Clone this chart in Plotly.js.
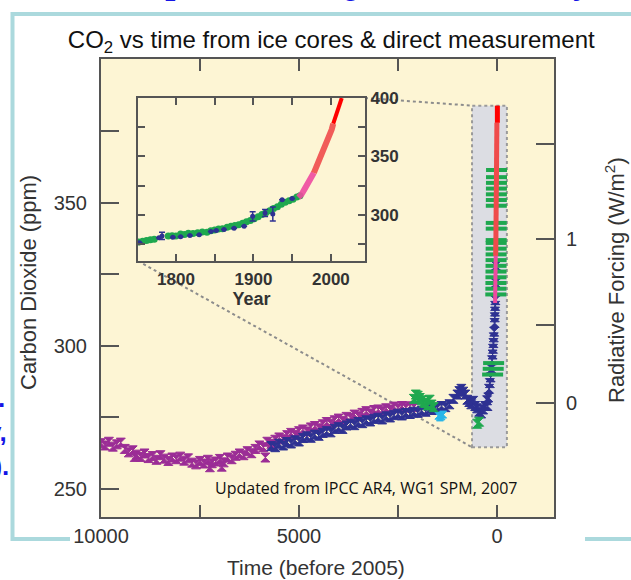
<!DOCTYPE html>
<html><head><meta charset="utf-8">
<script src="https://cdn.plot.ly/plotly-3.0.1.min.js"></script>
<style>html,body{margin:0;padding:0;background:#fff;}#chart{width:631px;height:580px;}</style>
</head><body><div id="chart"></div>
<script>
// ---------------- DATA ----------------
// Main panel: years before 2005, CO2 ppm
const purpleYr = [10000,9900,9800,9700,9600,9500,9400,9300,9200,9100,9000,8900,8800,8700,8600,8500,8400,8300,8200,8100,8000,7900,7800,7700,7600,7500,7400,7300,7200,7100,7000,6900,6800,6700,6600,6500,6400,6300,6200,6100,6000,5900,5800,5700,5600,5500,5400,5300,5200,5100,5000,4900,4800,4700,4600,4500,4400,4300,4200,4100,4000,3900,3800,3700,3600,3500,3400,3300,3200,3100,3000,2900,2800,2700,2600,2500,2400,2300,2200,2100, 5850,6950,7250,9150];
const purplePpm = [266.0,265.2,266.5,264.8,265.6,266.2,264.0,262.8,263.5,262.0,261.2,262.4,260.8,261.5,260.2,261.8,260.6,259.8,261.0,260.4,261.3,259.9,260.7,259.2,258.6,259.8,258.9,260.2,259.0,259.6,260.5,259.3,261.0,260.4,261.6,262.4,261.8,263.2,262.5,264.0,265.2,264.6,266.5,265.8,267.2,268.0,267.4,268.8,269.6,268.9,270.2,270.8,270.1,271.5,272.0,271.2,272.6,273.4,272.8,274.0,274.6,273.8,275.2,274.8,276.0,275.4,276.6,277.2,276.4,277.6,277.8,277.2,278.2,277.6,278.8,278.2,279.0,278.4,278.9,278.6, 261.0,257.8,257.6,261.2];

const blueYr = [5700,5600,5500,5400,5300,5200,5100,5000,4900,4800,4700,4600,4500,4400,4300,4200,4100,4000,3900,3800,3700,3600,3500,3400,3300,3200,3100,3000,2900,2800,2700,2600,2500,2400,2300,2200,2100,2000,1900,1800,1700,1600,1500,1400,1300,1200,1100,1000,950,900,850,800,750,700,650,600,550,500,450,400,350,300,250,240,220,200,180,160,140,125,110,100,90,80,70,60,55,50,45,40,35,30,28,25];
const bluePpm = [265.0,264.6,265.8,265.2,266.4,265.9,267.0,266.6,267.8,268.4,267.9,269.0,268.6,269.6,270.2,269.8,271.0,271.6,271.0,272.2,272.8,272.3,273.4,273.0,274.0,273.6,274.5,274.9,274.3,275.4,275.0,275.8,276.3,275.7,276.6,276.2,277.0,276.6,277.4,277.0,278.0,277.6,278.4,279.0,278.6,279.6,281.5,283.0,284.2,285.0,284.0,283.0,281.2,280.4,279.6,280.8,279.0,278.2,277.0,276.4,277.8,279.0,281.0,279.0,282.0,285.0,287.0,289.0,292.0,295.0,297.0,299.0,301.0,303.0,305.0,308.0,310.0,312.0,314.0,316.0,319.0,322.0,325.0,328.0];

const greenYr = [2100,2050,2000,1950,1900,1850,1800,1750,1700,1650,1600,500,450];
const greenPpm = [281.5,283.0,282.6,281.8,281.0,280.2,280.0,279.2,281.2,279.5,278.6,272.8,273.5];
const greenColYr = [110,95,85,30,28,27,26,25,24,23,22,21,20,20,19,18,17,16,15,14,13,12,11];
const greenColPpm = [290,292,294,318,320,322,324,326,328,330,332,334,336,337,341,343,349,351,353,355,357,359,361.5];

const cyanYr = [1480,1440,1400,1360];
const cyanPpm = [275.6,275.0,275.4,276.0];

// Direct atmospheric measurements (calendar year, ppm)
const pinkYear = [1958,1962,1966,1970,1974,1978];
const pinkPpm  = [315,317.5,322,327,331.5,336];
const redYear  = [1974,1978,1982,1986,1990,1994,1998,2001,2003];
const redPpm   = [331.5,336,342,348,354,360,367,373,378];

// Update added to the figure
const updYear = [2003,2014];
const updPpm  = [378,400];
const updMainYr  = [-10,-10];
const updMainPpm = [378,384];

// Inset: calendar year, ppm
const insetGreenYear = [1752,1757,1762,1767,1772,1790,1795,1800,1806,1811,1816,1822,1828,1834,1840,1845,1850,1855,1860,1866,1871,1876,1881,1886,1891,1896,1901,1906,1911,1916,1921,1926,1931,1936,1941,1946,1951,1956,1960];
const insetGreenPpm  = [276.8,277.4,278.0,278.6,279.2,281.8,282.2,281.9,283.6,283.2,284.2,284.0,284.6,285.3,285.0,286.4,287.0,287.8,288.2,289.4,290.2,290.8,291.6,292.8,294.0,295.2,296.6,298.4,300.2,301.8,303.6,305.4,307.0,309.0,310.8,312.0,313.4,315.2,316.4];
const insetBlueYear = [1753,1778,1782,1796,1806,1818,1830,1845,1852,1862,1875,1888,1899,1915,1925,1937,1950];
const insetBluePpm  = [276.2,280.5,282.0,280.8,281.2,282.4,283.0,285.8,286.5,287.4,288.6,290.2,298.7,301.5,300.7,313.0,314.0];
const insetBlueErr  = [0,0,3,0,0,0,0,0,0,0,0,0,4,3,6,0,0];

// Radiative forcing axis
const rfTicks = [0,0.5,1,1.5];
const rfTickText = ['0','','1',''];
const C0 = 280, RF_K = 5.35;

// Tick labels
const xTickVals = [10000,7500,5000,2500,0];
const xTickText = ['10000','','5000','','0'];
const yTickVals = [250,275,300,325,350,375];
const yTickText = ['250','','300','','350',''];
const inXVals = [1800,1850,1900,1950,2000];
const inXText = ['1800','','1900','','2000'];
const inYVals = [275,300,325,350,375,400];
const inYText = ['','300','','350','','400'];

// zoom box (years before 2005, ppm)
const boxYr = [630,-250];
const boxPpm = [264.6,384];

// ---------------- STYLE ----------------
const purple='#9b2d96', blue='#2e3192', green='#1fa84f', cyan='#29b6e8',
      pink='#ee4aa0', red='#ef4b4b', bright='#ff0000', axc='#555555';
const xR=[10000,-1440], yR=[240.2,400.3];
const L=101,R=77,T=59,B=63,W=631,H=580;
const PW=W-L-R, PH=H-T-B;
const toPX = px => (px-L)/PW;
const toPY = py => (H-B-py)/PH;
const pxOf = v => (xR[0]-v)/(xR[0]-xR[1]);
const pyOf = v => (v-yR[0])/(yR[1]-yR[0]);
const inDomX=[toPX(138),toPX(365)], inDomY=[toPY(261),toPY(98)];
const bp = arr => arr.map(y=>2005-y);
const rfTickPpm = rfTicks.map(f=>C0*Math.exp(f/RF_K));

const hg = (c,s)=>({symbol:'hourglass',size:s,color:c,line:{width:1,color:c}});

const traces = [
 {x:purpleYr,y:purplePpm,mode:'markers',marker:hg(purple,9),xaxis:'x',yaxis:'y'},
 {x:blueYr,y:bluePpm,mode:'markers',marker:hg(blue,9),xaxis:'x',yaxis:'y'},
 {x:cyanYr,y:cyanPpm,mode:'markers',marker:hg(cyan,7),xaxis:'x',yaxis:'y'},
 {x:greenYr,y:greenPpm,mode:'markers',marker:hg(green,9),xaxis:'x',yaxis:'y'},
 {x:greenColYr,y:greenColPpm,mode:'markers',marker:{symbol:'line-ew',size:15,line:{width:4,color:green}},xaxis:'x',yaxis:'y'},
 {x:bp(pinkYear),y:pinkPpm,mode:'lines',line:{color:pink,width:4},xaxis:'x',yaxis:'y'},
 {x:bp(redYear),y:redPpm,mode:'lines',line:{color:red,width:5},xaxis:'x',yaxis:'y'},
 {x:updMainYr,y:updMainPpm,mode:'lines',line:{color:bright,width:5},xaxis:'x',yaxis:'y'},
 {x:[null],y:[null],mode:'markers',xaxis:'x',yaxis:'y2'},
 // inset
 {x:insetGreenYear,y:insetGreenPpm,mode:'markers',marker:{color:green,size:7,symbol:'circle'},xaxis:'x3',yaxis:'y3'},
 {x:insetBlueYear,y:insetBluePpm,mode:'markers',marker:{color:blue,size:5},
  error_y:{type:'data',array:insetBlueErr,visible:true,color:blue,thickness:1.5,width:3},xaxis:'x3',yaxis:'y3'},
 {x:pinkYear,y:pinkPpm,mode:'lines',line:{color:pink,width:6},opacity:0.9,xaxis:'x3',yaxis:'y3'},
 {x:redYear.slice(1),y:redPpm.slice(1),mode:'lines',line:{color:red,width:6},opacity:0.9,xaxis:'x3',yaxis:'y3'},
 {x:updYear,y:updPpm,mode:'lines',line:{color:bright,width:4},xaxis:'x3',yaxis:'y3',cliponaxis:true}
];
traces.forEach(t=>{t.showlegend=false;t.hoverinfo='skip';});

const tickFont = {size:20,color:'#333',family:'Liberation Sans, Arial, sans-serif'};
const inFont = {size:17,color:'#333',family:'Liberation Sans, Arial, sans-serif',weight:700};

const layout = {
 width:W,height:H,margin:{l:L,r:R,t:T,b:B,pad:0},
 paper_bgcolor:'#ffffff',plot_bgcolor:'#fdf5d4',
 showlegend:false,hovermode:false,
 font:{family:'Liberation Sans, Arial, sans-serif',color:'#333'},
 title:{text:'CO<sub>2</sub> vs time from ice cores & direct measurement',
        font:{size:24,color:'#111'},x:0.525,xanchor:'center',y:1-40/H,yanchor:'middle',yref:'container'},
 xaxis:{range:xR,tickvals:xTickVals,ticktext:xTickText,ticks:'inside',ticklen:12,tickwidth:2,tickcolor:axc,
        showline:true,linecolor:axc,linewidth:2,mirror:'ticks',showgrid:false,zeroline:false,tickfont:tickFont,ticklabelstandoff:0},
 yaxis:{range:yR,tickvals:yTickVals,ticktext:yTickText,ticks:'inside',ticklen:18,tickwidth:2,tickcolor:axc,
        showline:true,linecolor:axc,linewidth:2,showgrid:false,zeroline:false,tickfont:tickFont,ticklabelstandoff:8},
 yaxis2:{overlaying:'y',side:'right',range:yR,tickvals:rfTickPpm,ticktext:rfTickText,ticks:'inside',ticklen:18,tickwidth:2,
        tickcolor:axc,showline:true,linecolor:axc,linewidth:2,showgrid:false,zeroline:false,tickfont:tickFont,ticklabelstandoff:6},
 xaxis3:{domain:inDomX,anchor:'y3',range:[1751,2044],tickvals:inXVals,ticktext:inXText,ticks:'inside',ticklen:7,tickwidth:2,
        tickcolor:axc,showline:true,linecolor:axc,linewidth:2,mirror:'ticks',showgrid:false,zeroline:false,tickfont:inFont,ticklabelstandoff:2,
        title:{text:'Year',font:{size:18,color:'#333',weight:700},standoff:4}},
 yaxis3:{domain:inDomY,anchor:'x3',side:'right',range:[260.5,400],tickvals:inYVals,ticktext:inYText,ticks:'inside',ticklen:7,
        tickwidth:2,tickcolor:axc,showline:true,linecolor:axc,linewidth:2,mirror:'ticks',showgrid:false,zeroline:false,tickfont:inFont},
 shapes:[
  {type:'rect',xref:'x',yref:'y',x0:boxYr[0],x1:boxYr[1],y0:boxPpm[0],y1:boxPpm[1],fillcolor:'#dcdde3',
   line:{color:'#9a9a9a',width:2,dash:'dot'},layer:'below'},
  {type:'line',xref:'paper',yref:'paper',x0:inDomX[1],y0:inDomY[1],x1:pxOf(boxYr[0]),y1:pyOf(boxPpm[1]),
   line:{color:'#8c8c8c',width:2,dash:'dot'},layer:'below'},
  {type:'line',xref:'paper',yref:'paper',x0:inDomX[0],y0:inDomY[0],x1:pxOf(boxYr[0]),y1:pyOf(boxPpm[0]),
   line:{color:'#8c8c8c',width:2,dash:'dot'},layer:'below'},
  {type:'rect',xref:'x3 domain',yref:'y3 domain',x0:0,x1:1,y0:0,y1:1,fillcolor:'#dcdde3',line:{width:0},layer:'below'},
  // slide frame
  {type:'path',xref:'paper',yref:'paper',
   path:`M ${toPX(70)} ${toPY(539)} L ${toPX(12.5)} ${toPY(539)} L ${toPX(12.5)} ${toPY(14)} L ${toPX(640)} ${toPY(14)}`,
   line:{color:'#abd9dd',width:4},layer:'above'},
  {type:'line',xref:'paper',yref:'paper',x0:toPX(585),x1:toPX(640),y0:toPY(539),y1:toPY(539),line:{color:'#abd9dd',width:4},layer:'above'}
 ],
 annotations:[
  {xref:'paper',yref:'paper',x:toPX(28),y:toPY(283),text:'Carbon Dioxide (ppm)',textangle:-90,showarrow:false,
   font:{size:22,color:'#333'},xanchor:'center',yanchor:'middle'},
  {xref:'paper',yref:'paper',x:toPX(615),y:toPY(280),text:'Radiative Forcing (W/m<sup>2</sup>)',textangle:-90,showarrow:false,
   font:{size:22,color:'#333'},xanchor:'center',yanchor:'middle'},
  {xref:'paper',yref:'paper',x:toPX(316),y:toPY(567),text:'Time (before 2005)',showarrow:false,
   font:{size:21,color:'#333'},xanchor:'center',yanchor:'middle'},
  {xref:'paper',yref:'paper',x:toPX(366),y:toPY(488),text:'Updated from IPCC AR4, WG1 SPM, 2007',showarrow:false,
   font:{size:16,color:'#111',family:'Open Sans, Noto Sans, sans-serif'},xanchor:'center',yanchor:'middle'},
  {xref:'paper',yref:'paper',x:toPX(121),y:toPY(-13),text:'<b>CO<sub>2</sub> over the long term: the history</b>',showarrow:false,
   font:{size:28,color:'#1414e6'},xanchor:'left',yanchor:'middle'},
  {xref:'paper',yref:'paper',x:toPX(7),y:toPY(398),text:'<b>n.</b>',showarrow:false,font:{size:26,color:'#1414e6'},xanchor:'right',yanchor:'middle'},
  {xref:'paper',yref:'paper',x:toPX(9),y:toPY(432),text:'<b>y,</b>',showarrow:false,font:{size:26,color:'#1414e6'},xanchor:'right',yanchor:'middle'},
  {xref:'paper',yref:'paper',x:toPX(11),y:toPY(466),text:'<b>0).</b>',showarrow:false,font:{size:26,color:'#1414e6'},xanchor:'right',yanchor:'middle'}
 ]
};

Plotly.newPlot('chart',traces,layout,{staticPlot:true,displayModeBar:false});
</script></body></html>
